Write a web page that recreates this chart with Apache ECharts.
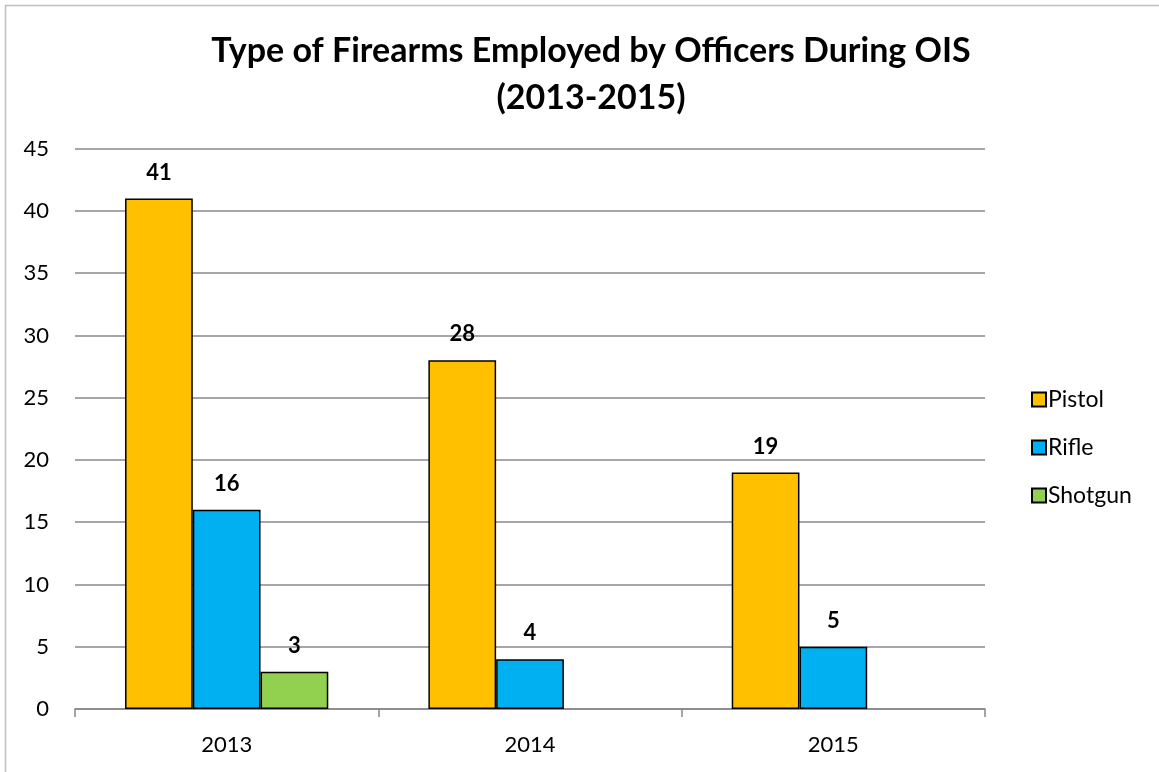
<!DOCTYPE html>
<html>
<head>
<meta charset="utf-8">
<script src="https://cdn.jsdelivr.net/npm/echarts@6/dist/echarts.min.js"></script>
<style>
html,body{margin:0;padding:0;background:#fff;}
#chart{width:1159px;height:772px;}
</style>
</head>
<body>
<div id="chart"></div>
<script>
// Officer-involved shootings: firearm type counts per year
const years = ['2013', '2014', '2015'];
const pistol = [41, 28, 19];
const rifle = [16, 4, 5];
const shotgun = [3, null, null];
const yTicks = { min: 0, max: 45, interval: 5 };

const FONT = 'Lato, "Open Sans", sans-serif';
const chart = echarts.init(document.getElementById('chart'));

const labelStyle = {
  show: true,
  position: 'top',
  distance: 15,
  fontFamily: FONT,
  fontWeight: 'bold',
  fontSize: 22,
  color: '#000'
};

function barSeries(name, data, color) {
  return {
    name: name,
    type: 'bar',
    data: data,
    barGap: '0%',
    barCategoryGap: '33%',
    itemStyle: { color: color, borderColor: '#000', borderWidth: 1.5 },
    label: labelStyle
  };
}

chart.setOption({
  backgroundColor: '#fff',
  animation: false,
  graphic: [{
    type: 'rect',
    shape: { x: 5.5, y: 5.5, width: 1170, height: 800 },
    style: { fill: 'none', stroke: '#bfbfbf', lineWidth: 1.5 },
    silent: true
  }],
  title: {
    text: 'Type of Firearms Employed by Officers During OIS\n(2013-2015)',
    left: 586,
    top: 23,
    textAlign: 'center',
    textStyle: {
      fontFamily: FONT,
      fontWeight: 'bold',
      fontSize: 34,
      lineHeight: 47,
      color: '#000'
    }
  },
  legend: {
    orient: 'vertical',
    left: 1026,
    top: 383,
    itemWidth: 14,
    itemHeight: 14,
    itemGap: 25,
    icon: 'rect',
    data: ['Pistol', 'Rifle', 'Shotgun'],
    textStyle: { fontFamily: FONT, fontSize: 23, color: '#000', padding: [0, 0, 0, -3] }
  },
  grid: { left: 75, right: 174, top: 148.7, bottom: 63, containLabel: false },
  xAxis: {
    type: 'category',
    data: years,
    axisLine: { lineStyle: { color: '#888', width: 1.5 } },
    axisTick: { show: true, length: 8, lineStyle: { color: '#888', width: 1.5 } },
    axisLabel: { fontFamily: FONT, fontSize: 22, color: '#000', margin: 25 }
  },
  yAxis: {
    type: 'value',
    min: yTicks.min,
    max: yTicks.max,
    interval: yTicks.interval,
    axisLine: { show: false },
    axisTick: { show: false },
    axisLabel: { fontFamily: FONT, fontSize: 22, color: '#000', margin: 26 },
    splitLine: { lineStyle: { color: '#888', width: 1.5 } }
  },
  series: [
    barSeries('Pistol', pistol, '#FFC000'),
    barSeries('Rifle', rifle, '#00B0F0'),
    barSeries('Shotgun', shotgun, '#92D050')
  ]
});
</script>
</body>
</html>
